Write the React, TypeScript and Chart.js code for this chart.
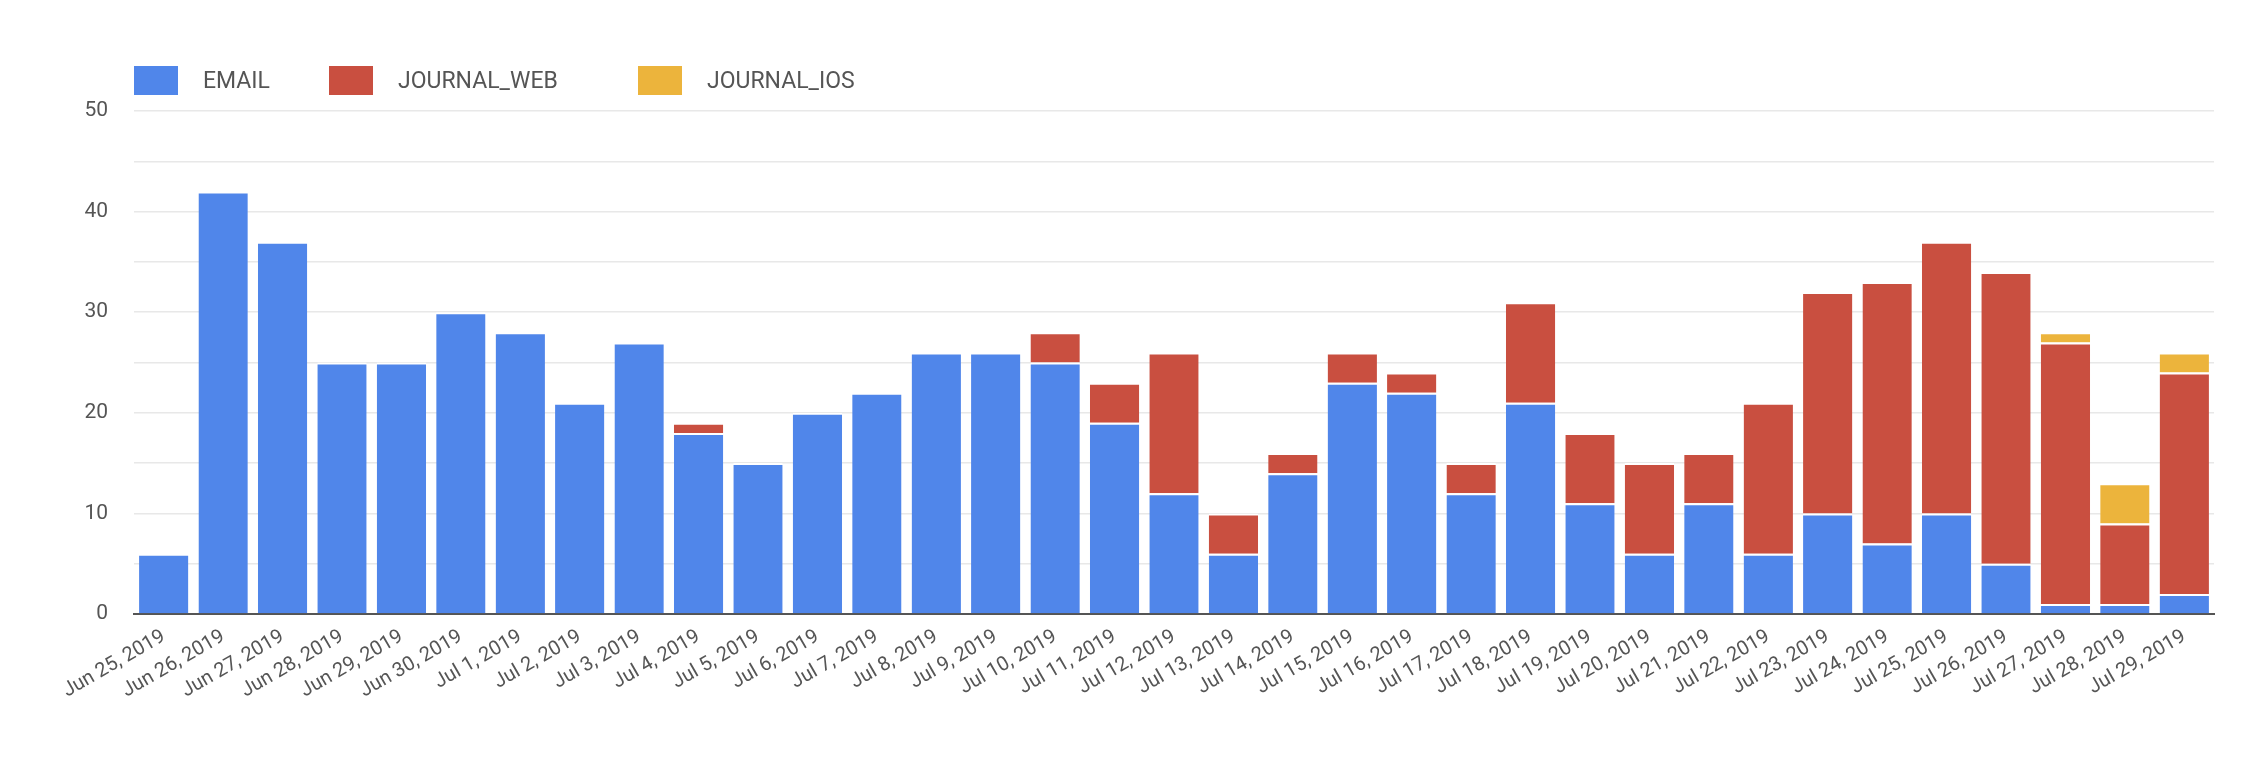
import React, { useEffect, useRef } from "react";
import { Chart, registerables } from "chart.js";
Chart.register(...registerables);

const categories = ["Jun 25, 2019","Jun 26, 2019","Jun 27, 2019","Jun 28, 2019","Jun 29, 2019","Jun 30, 2019","Jul 1, 2019","Jul 2, 2019","Jul 3, 2019","Jul 4, 2019","Jul 5, 2019","Jul 6, 2019","Jul 7, 2019","Jul 8, 2019","Jul 9, 2019","Jul 10, 2019","Jul 11, 2019","Jul 12, 2019","Jul 13, 2019","Jul 14, 2019","Jul 15, 2019","Jul 16, 2019","Jul 17, 2019","Jul 18, 2019","Jul 19, 2019","Jul 20, 2019","Jul 21, 2019","Jul 22, 2019","Jul 23, 2019","Jul 24, 2019","Jul 25, 2019","Jul 26, 2019","Jul 27, 2019","Jul 28, 2019","Jul 29, 2019"];
const email = [6,42,37,25,25,30,28,21,27,18,15,20,22,26,26,25,19,12,6,14,23,22,12,21,11,6,11,6,10,7,10,5,1,1,2];
const journalWeb = [0,0,0,0,0,0,0,0,0,1,0,0,0,0,0,3,4,14,4,2,3,2,3,10,7,9,5,15,22,26,27,29,26,8,22];
const journalIos = [0,0,0,0,0,0,0,0,0,0,0,0,0,0,0,0,0,0,0,0,0,0,0,0,0,0,0,0,0,0,0,0,1,4,2];
const yTicks = [0,10,20,30,40,50];

const COLORS = ["#5086ea", "#c94f40", "#ecb43c"];
const NAMES = ["EMAIL", "JOURNAL_WEB", "JOURNAL_IOS"];
const FONT = "Roboto";

export default function App() {
  const ref = useRef<HTMLCanvasElement>(null);
  useEffect(() => {
    const series = [email, journalWeb, journalIos];
    const chart = new Chart(ref.current!, {
      type: "bar",
      data: {
        labels: categories,
        datasets: series.map((d, i) => ({
          label: NAMES[i],
          data: d,
          backgroundColor: COLORS[i],
          borderColor: "#ffffff",
          borderWidth: { top: 2, bottom: 0, left: 0, right: 0 },
          borderSkipped: false,
          categoryPercentage: 0.83,
          barPercentage: 1,
        })),
      },
      options: {
        animation: false,
        responsive: false,
        layout: { padding: { top: 103, right: 44, bottom: 70, left: 0 } },
        plugins: { legend: { display: false }, tooltip: { enabled: false } },
        scales: {
          x: {
            stacked: true,
            grid: { display: false },
            border: { color: "#555", width: 2 },
            ticks: { font: { family: FONT, size: 20 }, color: "#555", minRotation: 30, maxRotation: 30, autoSkip: false },
          },
          y: {
            stacked: true,
            min: 0,
            max: 50,
            afterFit: (s: any) => { s.width = 126; },
            grid: { color: "#e8e8e8", lineWidth: 1.5, drawTicks: false },
            border: { display: false },
            ticks: {
              stepSize: 5,
              padding: 26,
              font: { family: FONT, size: 21 },
              color: "#555",
              callback: (v: any) => (yTicks.includes(Number(v)) ? String(v) : ""),
            },
          },
        },
      },
    });
    return () => chart.destroy();
  }, []);
  const legendPos = [126, 321, 630];
  return (
    <div style={{ position: "relative", width: 2250, height: 768, fontFamily: FONT }}>
      <canvas ref={ref} width={2250} height={768} />
      {NAMES.map((n, i) => (
        <div key={n} style={{ position: "absolute", left: legendPos[i], top: 58, display: "flex", alignItems: "center" }}>
          <div style={{ width: 44, height: 29, background: COLORS[i], marginRight: 25 }} />
          <span style={{ fontSize: 23, color: "#555" }}>{n}</span>
        </div>
      ))}
    </div>
  );
}
